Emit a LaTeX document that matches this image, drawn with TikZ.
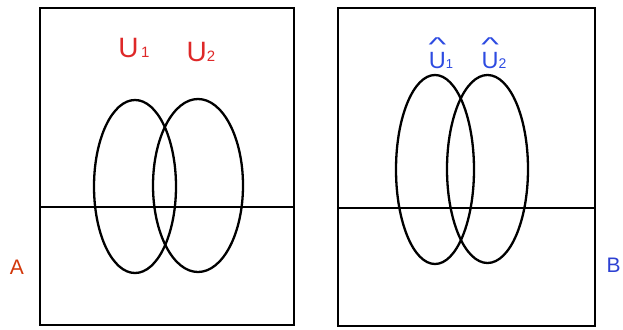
\documentclass[tikz,border=0pt]{standalone}
\usepackage{fontspec}
\setmainfont{Liberation Sans}
\usepackage{graphicx}
\definecolor{lblred}{RGB}{222,40,40}
\definecolor{lblorange}{RGB}{210,55,10}
\definecolor{lblblue}{RGB}{45,75,225}
\definecolor{lblblueB}{RGB}{45,65,210}
\newcommand\hatU{\ooalign{U\cr\hidewidth\raisebox{17pt}{\scalebox{1.6}[0.85]{\textasciicircum}}\hidewidth\cr}}
\tikzset{
  frame/.style={draw=black, line width=2.8pt},
  oval/.style={draw=black, line width=2.3pt},
  axis/.style={draw=black, line width=2.3pt},
  ulbl/.style={text=lblred, inner sep=0pt, anchor=base, font=\fontsize{28}{28}\selectfont},
  hlbl/.style={text=lblblue, inner sep=0pt, anchor=base, font=\fontsize{23.5}{24}\selectfont},
  sidelbl/.style={inner sep=0pt, anchor=base, font=\fontsize{21}{21}\selectfont},
}
\begin{document}
\begin{tikzpicture}[x=1pt,y=-1pt]
\useasboundingbox (0,0) rectangle (623,329);
% left panel
\node[frame, minimum width=254pt, minimum height=317pt, inner sep=0pt] (boxA) at (167,166.5) {};
\coordinate (lA) at (40,207);
\coordinate (rA) at (294,207);
\draw[axis] (lA) -- (rA);
\draw[oval] (135,186.5) ellipse [x radius=41, y radius=86.5];
\draw[oval] (198,185.5) ellipse [x radius=45, y radius=86.5];
\node[ulbl] (u1) at (134,57) {U{\fontsize{15}{15}\selectfont\,1}};
\node[ulbl] (u2) at (201,62) {U{\fontsize{15}{15}\selectfont 2}};
\node[sidelbl, text=lblorange] (a) at (17,274) {A};
% right panel
\node[frame, minimum width=257pt, minimum height=318pt, inner sep=0pt] (boxB) at (466.5,167) {};
\coordinate (lB) at (338,208);
\coordinate (rB) at (595,208);
\draw[axis] (lB) -- (rB);
\draw[oval] (435,169.5) ellipse [x radius=39, y radius=94.5];
\draw[oval] (487.5,169) ellipse [x radius=40.5, y radius=94];
\node[hlbl] (uh1) at (441,68) {\hatU{\fontsize{13}{13}\selectfont 1}};
\node[hlbl] (uh2) at (494,68) {\hatU{\fontsize{14}{14}\selectfont 2}};
\node[sidelbl, text=lblblueB] (b) at (613.5,272) {B};
\end{tikzpicture}
\end{document}
